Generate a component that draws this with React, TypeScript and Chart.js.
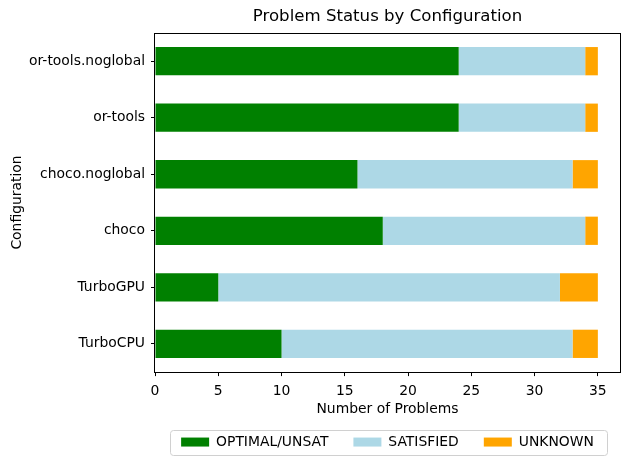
import React, { useEffect, useRef } from 'react';
import { Chart, registerables } from 'chart.js';

Chart.register(...registerables);

const configurations = ['or-tools.noglobal', 'or-tools', 'choco.noglobal', 'choco', 'TurboGPU', 'TurboCPU'];
const optimalUnsat = [24, 24, 16, 18, 5, 10];
const satisfied = [10, 10, 17, 16, 27, 23];
const unknown = [1, 1, 2, 1, 3, 2];
const xTickValues = [0, 5, 10, 15, 20, 25, 30, 35];
const xMax = 36.75;

const FONT = "'DejaVu Sans', sans-serif";
const FS = 13.9;

const framePlugin = {
  id: 'frame',
  afterDraw(chart: any) {
    const { ctx, chartArea: a } = chart;
    ctx.save();
    ctx.strokeStyle = '#000';
    ctx.lineWidth = 1;
    const l = Math.round(a.left) - 0.5;
    const t = Math.round(a.top) + 0.5;
    const r = Math.round(a.right) + 0.5;
    const b = Math.round(a.bottom) + 0.5;
    ctx.strokeRect(l, t, r - l, b - t);
    const lg = chart.legend;
    if (lg && lg.legendHitBoxes && lg.legendHitBoxes.length) {
      const hb = lg.legendHitBoxes;
      const L = Math.min(...hb.map((h: any) => h.left)) - 11;
      const R = Math.max(...hb.map((h: any) => h.left + h.width)) + 13;
      const T = hb[0].top - 5;
      const B = hb[0].top + hb[0].height + 6;
      ctx.strokeStyle = '#d0d0d0';
      ctx.beginPath();
      (ctx as any).roundRect(Math.round(L) + 0.5, Math.round(T) + 0.5, Math.round(R - L), Math.round(B - T), 3);
      ctx.stroke();
    }
    ctx.restore();
  },
};

export default function App() {
  const ref = useRef<HTMLCanvasElement | null>(null);
  useEffect(() => {
    if (!ref.current) return;
    const chart = new Chart(ref.current, {
      type: 'bar',
      data: {
        labels: configurations,
        datasets: [
          { label: 'OPTIMAL/UNSAT', data: optimalUnsat, backgroundColor: '#008000' },
          { label: 'SATISFIED', data: satisfied, backgroundColor: '#add8e6' },
          { label: 'UNKNOWN', data: unknown, backgroundColor: '#ffa500' },
        ],
      },
      options: {
        indexAxis: 'y',
        responsive: false,
        animation: false,
        events: [],
        layout: { padding: { left: 0, right: 10, top: 0, bottom: 6 } },
        datasets: { bar: { categoryPercentage: 0.5, barPercentage: 1.0, borderWidth: 0 } },
        scales: {
          x: {
            stacked: true,
            min: 0,
            max: xMax,
            afterBuildTicks: (scale: any) => {
              scale.ticks = xTickValues.map((v) => ({ value: v }));
            },
            afterFit: (scale: any) => {
              scale.height = 38;
            },
            grid: { drawOnChartArea: false, drawTicks: true, tickLength: 4, color: '#000' },
            border: { display: false },
            ticks: { color: '#000', font: { family: FONT, size: FS }, padding: 7, maxRotation: 0 },
            title: {
              display: true,
              text: 'Number of Problems',
              color: '#000',
              font: { family: FONT, size: FS },
              padding: { top: 0, bottom: -7.3 },
            },
          },
          y: {
            stacked: true,
            afterFit: (scale: any) => {
              scale.width = 155;
            },
            grid: { drawOnChartArea: false, drawTicks: true, tickLength: 4, color: '#000', offset: false },
            border: { display: false },
            ticks: { color: '#000', font: { family: FONT, size: FS }, padding: 6 },
            title: {
              display: true,
              text: 'Configuration',
              color: '#000',
              font: { family: FONT, size: FS },
              padding: { top: 9, bottom: 0 },
            },
          },
        },
        plugins: {
          title: {
            display: true,
            fullSize: false,
            text: 'Problem Status by Configuration',
            color: '#000',
            font: { family: FONT, size: 16.6, weight: 'normal' },
            padding: { top: 7, bottom: 6 },
          },
          legend: {
            position: 'bottom',
            fullSize: false,
            labels: {
              color: '#000',
              font: { family: FONT, size: FS },
              boxWidth: 28,
              boxHeight: 9,
              padding: 25,
            },
          },
          tooltip: { enabled: false },
        },
      },
      plugins: [framePlugin],
    } as any);
    return () => chart.destroy();
  }, []);
  return (
    <div style={{ position: 'fixed', left: 0, top: 0, width: 630, height: 465, background: '#fff' }}>
      <canvas ref={ref} width={630} height={465} style={{ display: 'block' }} />
    </div>
  );
}
